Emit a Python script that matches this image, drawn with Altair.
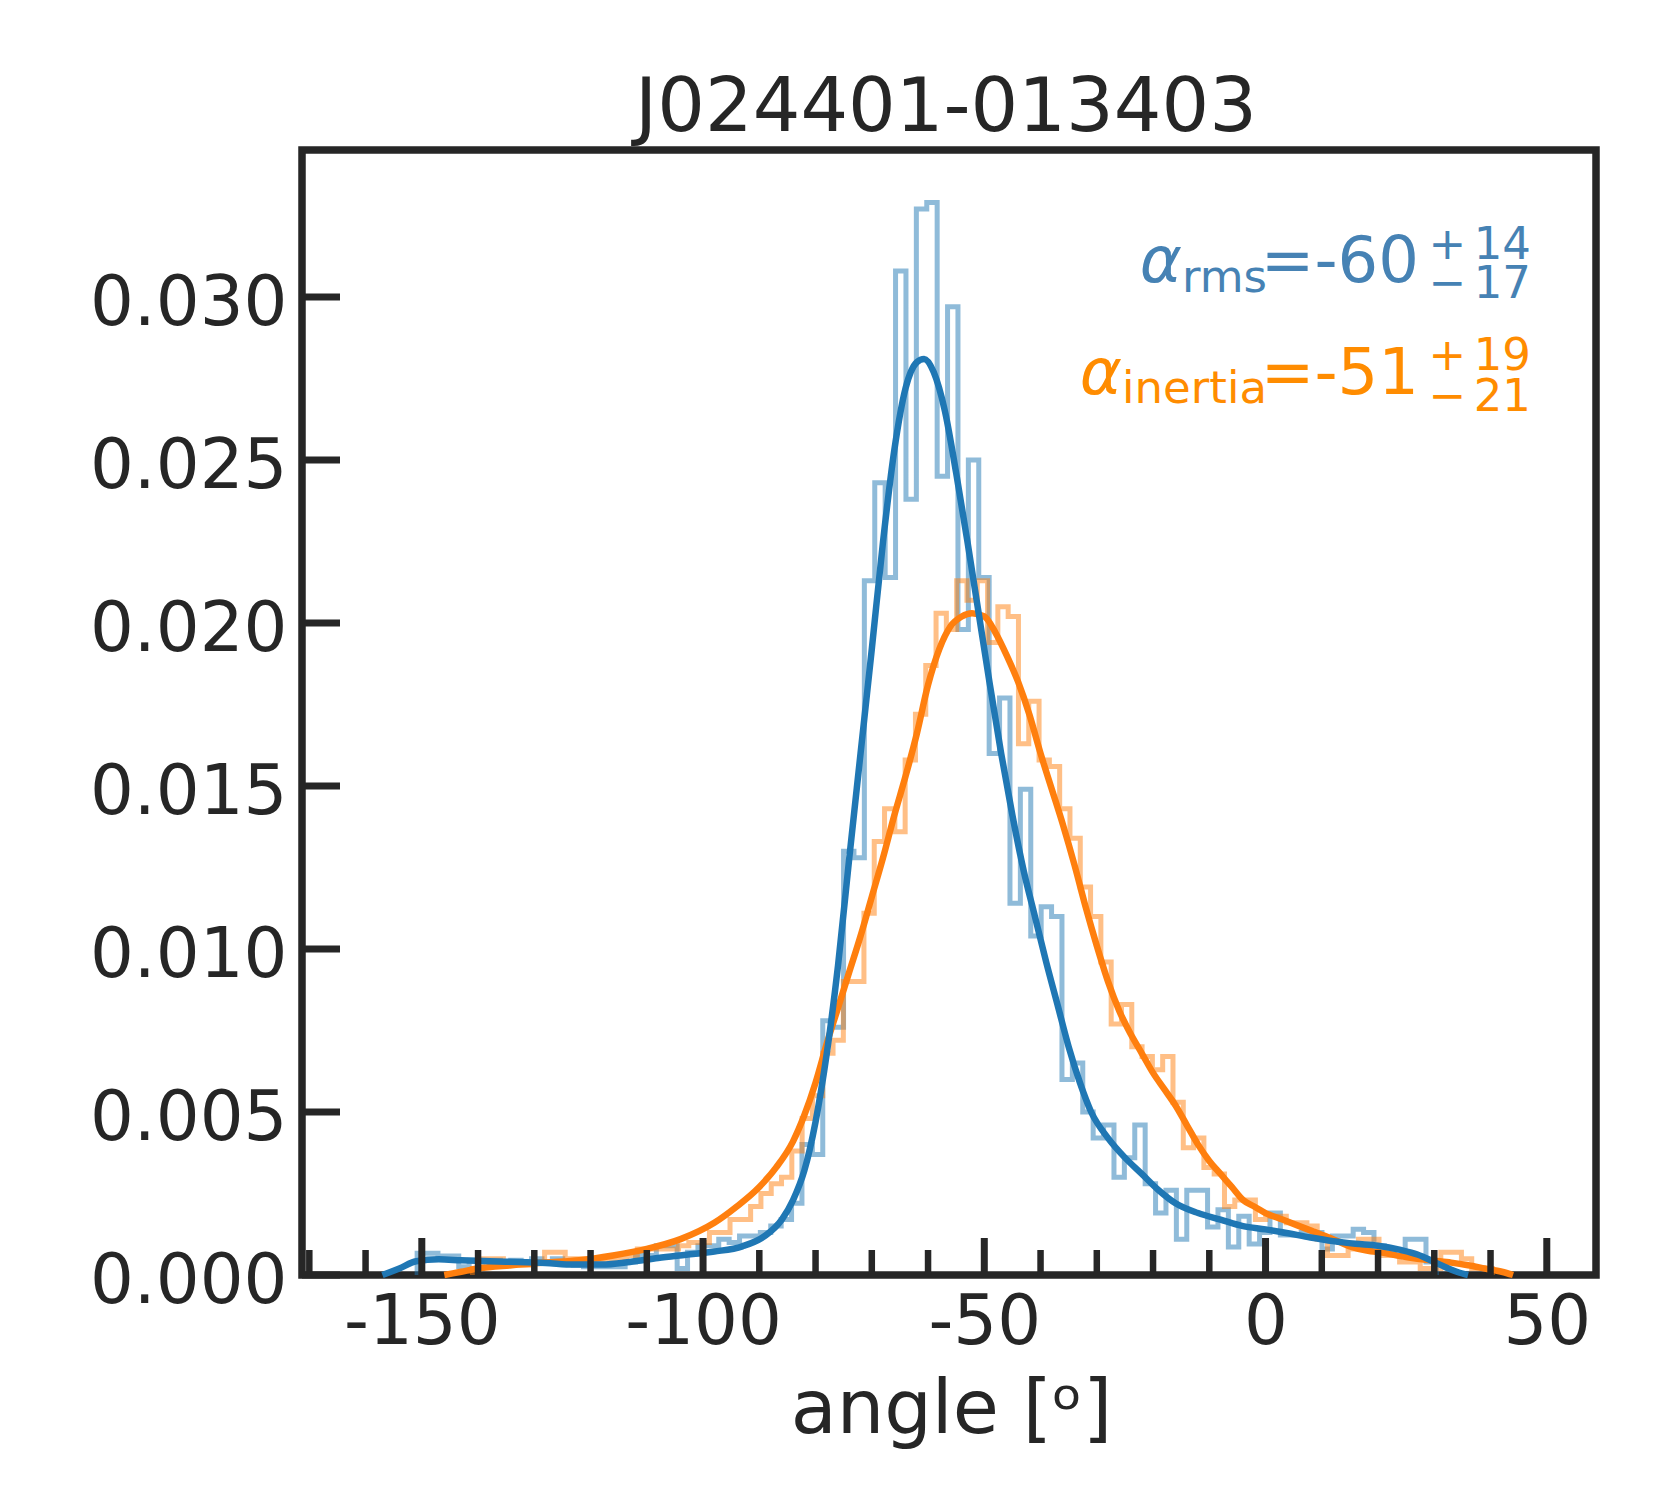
import altair as alt
import pandas as pd

FONT = "DejaVu Sans"
INK = "#262626"
BLUE = "#1f77b4"
ORANGE = "#ff7f0e"
BLUE_TXT = "#4682b4"
ORANGE_TXT = "#ff8c00"

TITLE = "J024401-013403"
XLABEL = "angle [ᵒ]"

X_DOMAIN = [-171.3, 58.75]
Y_DOMAIN = [0.0, 0.03451]

X_MAJOR = [-150, -100, -50, 0, 50]
X_MINOR = [-170, -160, -140, -130, -120, -110, -90, -80, -70, -60,
           -40, -30, -20, -10, 10, 20, 30, 40]
Y_TICKS = [0.0, 0.005, 0.010, 0.015, 0.020, 0.025, 0.030]

# histogram of alpha_rms (density per bin)
RMS_BIN_START = -150.83
RMS_BIN_WIDTH = 1.849
RMS_HEIGHTS = [
    0.00067, 0.00067, 0.00058, 0.00058, 0.00025, 0.00045, 0.00045, 0.00045,
    0.00040, 0.00045, 0.00040, 0.00050, 0.00040, 0.00050, 0.00035, 0.00030,
    0.00025, 0.00025, 0.00025, 0.00025, 0.00040, 0.00060, 0.00060, 0.00090,
    0.00090, 0.00020, 0.00070, 0.00090, 0.00090, 0.00110, 0.00100, 0.00120,
    0.00120, 0.00130, 0.00150, 0.00170, 0.00220, 0.00400, 0.00370, 0.00780,
    0.00760, 0.01300, 0.01280, 0.02130, 0.02430, 0.02140, 0.03080, 0.02380,
    0.03270, 0.03290, 0.02450, 0.02970, 0.01980, 0.02500, 0.02140, 0.01600,
    0.01770, 0.01140, 0.01490, 0.01040, 0.01130, 0.01100, 0.00600, 0.00650,
    0.00500, 0.00420, 0.00460, 0.00300, 0.00360, 0.00460, 0.00280, 0.00190,
    0.00260, 0.00110, 0.00260, 0.00260, 0.00147, 0.00200, 0.00086, 0.00180,
    0.00095, 0.00130, 0.00190, 0.00123, 0.00123, 0.00130, 0.00130, 0.00080,
    0.00120, 0.00120, 0.00140, 0.00130, 0.00090, 0.00070, 0.00060, 0.00110,
    0.00110, 0.00040,
]

# histogram of alpha_inertia (density per bin)
INERTIA_BIN_START = -140.99
INERTIA_BIN_WIDTH = 1.8314
INERTIA_HEIGHTS = [
    0.0002, 0.0005, 0.0005, 0.0003, 0.0003, 0.0003, 0.0004, 0.0007,
    0.0007, 0.0005, 0.0005, 0.0005, 0.0004, 0.0005, 0.0005, 0.0006,
    0.0008, 0.0008, 0.0008, 0.0008, 0.0009, 0.0010, 0.0010, 0.0013,
    0.0013, 0.0017, 0.0017, 0.0021, 0.0025, 0.0028, 0.0030, 0.0038,
    0.0048, 0.0055, 0.0068, 0.0072, 0.0090, 0.0090, 0.0111, 0.0133,
    0.0143, 0.0136, 0.0158, 0.0172, 0.0187, 0.0203, 0.0198, 0.0213,
    0.0207, 0.0213, 0.0194, 0.0205, 0.0202, 0.0163, 0.0176, 0.0158,
    0.0156, 0.0143, 0.0134, 0.0119, 0.0110, 0.0096, 0.0077, 0.0083,
    0.0070, 0.0067, 0.0063, 0.0067, 0.0053, 0.0039, 0.0042, 0.0033,
    0.0031, 0.0021, 0.0023, 0.0023, 0.0017, 0.0018, 0.0018, 0.0016,
    0.0016, 0.0015, 0.0011, 0.0006, 0.0006, 0.0008, 0.0011, 0.0011,
    0.0006, 0.0006, 0.0004, 0.0004, 0.0002, 0.0002, 0.0007, 0.0007,
    0.0005, 0.0002, 0.0002,
]

# KDE curves
RMS_KDE_X = [-157, -154, -151, -147, -143, -138, -133, -128, -123, -118,
             -113, -108, -103, -98, -93, -89, -86, -84, -82, -80,
             -78, -76, -74, -72, -70, -68, -66, -64, -62, -60.7,
             -59, -57, -55, -53, -51, -49, -47, -45, -43, -41,
             -39, -37, -35, -33, -31, -28, -25, -22, -19, -16,
             -12, -8, -4, 0, 4, 8, 12, 16, 20, 24,
             27, 30, 32, 34, 36]
RMS_KDE_Y = [0.0, 0.0002, 0.00042, 0.00048, 0.00045, 0.00042, 0.0004, 0.00037, 0.00032, 0.00032,
             0.0004, 0.00052, 0.00062, 0.00072, 0.00088, 0.0012, 0.0017, 0.0023, 0.0032, 0.0047,
             0.0068, 0.0095, 0.0128, 0.0160, 0.0192, 0.0225, 0.0253, 0.0272, 0.0280, 0.0281,
             0.0277, 0.0265, 0.0246, 0.0225, 0.0203, 0.0181, 0.0160, 0.0141, 0.0124, 0.0110,
             0.0096, 0.0083, 0.0070, 0.0059, 0.0050, 0.0042, 0.0036, 0.0031, 0.0026, 0.0022,
             0.0019, 0.0017, 0.0015, 0.0014, 0.00128, 0.00115, 0.00104, 0.00096, 0.0009, 0.00077,
             0.00063, 0.0004, 0.00024, 0.0001, 0.0]

INERTIA_KDE_X = [-146, -143, -140, -134, -128, -122, -116, -110, -104, -98,
                 -94, -90, -87, -84, -82, -80, -78, -76, -74, -72,
                 -70, -68, -66, -64, -62, -60, -58, -56, -54, -52.2,
                 -50, -48, -46, -44, -42, -40, -38, -36, -34, -32,
                 -30, -28, -26, -24, -22, -20, -18, -16, -14, -12,
                 -10, -8, -6, -4, -2, 0, 3, 6, 9, 12,
                 15, 18, 21, 24, 27, 30, 33, 36, 39, 42, 44]
INERTIA_KDE_Y = [0.0, 0.0001, 0.0002, 0.0003, 0.00038, 0.00045, 0.0006, 0.0008, 0.0011, 0.0016,
                 0.0021, 0.0027, 0.0033, 0.0041, 0.0049, 0.0059, 0.0071, 0.0082, 0.0093, 0.0104,
                 0.0116, 0.0128, 0.0141, 0.0153, 0.0166, 0.0181, 0.0192, 0.0199, 0.0202, 0.0203,
                 0.0202, 0.0197, 0.0190, 0.0182, 0.0172, 0.0160, 0.0149, 0.0138, 0.0126, 0.0113,
                 0.0101, 0.0090, 0.0081, 0.0074, 0.0068, 0.0062, 0.0057, 0.0052, 0.0046, 0.0040,
                 0.0035, 0.0031, 0.0027, 0.0023, 0.0021, 0.0019, 0.0017, 0.0015, 0.0013, 0.0011,
                 0.00088, 0.00075, 0.00068, 0.00058, 0.0005, 0.00044, 0.00038, 0.0003, 0.0002, 0.0001, 0.0]

# annotation texts: symbol, subscript, value, errors (upper/lower)
RMS_TEXTS = ["α", "rms", "=-60", ["+\u200614", "−\u200617"]]
INERTIA_TEXTS = ["α", "inertia", "=-51", ["+\u200619", "−\u200621"]]

W, H = 1294, 1125

xscale = alt.Scale(domain=X_DOMAIN, nice=False, zero=False)
yscale = alt.Scale(domain=Y_DOMAIN, nice=False, zero=False)


def step_frame(start, width, heights):
    edges = [start + width * i for i in range(len(heights) + 1)]
    xs = [edges[0]] + edges[:-1] + [edges[-1]]
    ys = [0.0] + list(heights) + [0.0]
    return pd.DataFrame({"x": xs, "y": ys, "o": list(range(len(xs)))})


x_axis = alt.Axis(
    values=X_MAJOR, ticks=False, tickSize=0, domain=False, grid=False,
    labelFont=FONT, labelFontSize=69, labelColor=INK, labelPadding=68,
    labelBaseline="alphabetic", labelFlush=False, labelOverlap=False, labelLimit=0,
    labelExpr="replace(datum.label, '\u2212', '-')",
    title=XLABEL, titleFont=FONT, titleFontSize=75, titleColor=INK,
    titleFontWeight="normal", titleX=649, titleY=157,
    titleBaseline="alphabetic", titleAlign="center",
)
y_axis = alt.Axis(
    values=Y_TICKS, format=".3f", ticks=False, tickSize=0, domain=False, grid=False,
    labelFont=FONT, labelFontSize=69, labelColor=INK, labelPadding=15,
    labelBaseline="middle", labelOffset=6, labelFlush=False, labelOverlap=False,
    labelLimit=0, title=None,
)


def X():
    return alt.X("x:Q", scale=xscale, axis=x_axis)


def Y():
    return alt.Y("y:Q", scale=yscale, axis=y_axis)


hist_rms = alt.Chart(step_frame(RMS_BIN_START, RMS_BIN_WIDTH, RMS_HEIGHTS)).mark_line(
    interpolate="step-after", color=BLUE, strokeWidth=5, opacity=0.5,
    strokeJoin="miter", strokeCap="butt",
).encode(x=X(), y=Y(), order="o:Q")

hist_inertia = alt.Chart(step_frame(INERTIA_BIN_START, INERTIA_BIN_WIDTH, INERTIA_HEIGHTS)).mark_line(
    interpolate="step-after", color=ORANGE, strokeWidth=5, opacity=0.5,
    strokeJoin="miter", strokeCap="butt",
).encode(x=X(), y=Y(), order="o:Q")

kde_rms = alt.Chart(pd.DataFrame({"x": RMS_KDE_X, "y": RMS_KDE_Y})).mark_line(
    interpolate="monotone", color=BLUE, strokeWidth=6.5,
).encode(x=X(), y=Y())

kde_inertia = alt.Chart(pd.DataFrame({"x": INERTIA_KDE_X, "y": INERTIA_KDE_Y})).mark_line(
    interpolate="monotone", color=ORANGE, strokeWidth=6.5,
).encode(x=X(), y=Y())

xmaj = alt.Chart(pd.DataFrame({"x": X_MAJOR})).mark_rule(color=INK, strokeWidth=7).encode(
    x=X(), y=alt.value(H), y2=alt.value(H - 37),
)
xmin = alt.Chart(pd.DataFrame({"x": X_MINOR})).mark_rule(color=INK, strokeWidth=6.5).encode(
    x=X(), y=alt.value(H), y2=alt.value(H - 25),
)
yt = alt.Chart(pd.DataFrame({"y": Y_TICKS})).mark_rule(color=INK, strokeWidth=7).encode(
    y=Y(), x=alt.value(0), x2=alt.value(38),
)

title = alt.Chart(pd.DataFrame({"t": [TITLE]})).mark_text(
    font=FONT, fontSize=75, color=INK, align="center", baseline="alphabetic",
).encode(text="t:N", x=alt.value(644), y=alt.value(-19))


def piece(text, x, y, size, color, italic=False, line_height=None):
    kw = dict(font=FONT, fontSize=size, color=color, align="right", baseline="alphabetic",
              fontStyle="italic" if italic else "normal")
    if line_height is not None:
        kw["lineHeight"] = line_height
    return alt.Chart(pd.DataFrame({"i": [0]})).mark_text(**kw).encode(
        text=alt.value(text), x=alt.value(x), y=alt.value(y))


labels = [
    piece(RMS_TEXTS[0], 880, 132, 64, BLUE_TXT, italic=True),
    piece(RMS_TEXTS[1], 965, 142, 45, BLUE_TXT),
    piece(RMS_TEXTS[2], 1117, 132, 64, BLUE_TXT),
    piece(RMS_TEXTS[3], 1229, 109, 45, BLUE_TXT, line_height=39),
    piece(INERTIA_TEXTS[0], 820, 244, 64, ORANGE_TXT, italic=True),
    piece(INERTIA_TEXTS[1], 965, 253, 45, ORANGE_TXT),
    piece(INERTIA_TEXTS[2], 1117, 244, 64, ORANGE_TXT),
    piece(INERTIA_TEXTS[3], 1229, 220, 45, ORANGE_TXT, line_height=41),
]

chart = alt.layer(
    hist_rms, hist_inertia, kde_inertia, kde_rms, xmaj, xmin, yt, title, *labels
).properties(
    width=W, height=H,
    padding={"left": 294, "top": 142, "right": 70, "bottom": 200},
    autosize=alt.AutoSizeParams(type="none"),
    background="white",
).configure_view(
    stroke=INK, strokeWidth=7.5,
)

chart.save("out.html", embed_options={"renderer": "svg", "actions": False})
